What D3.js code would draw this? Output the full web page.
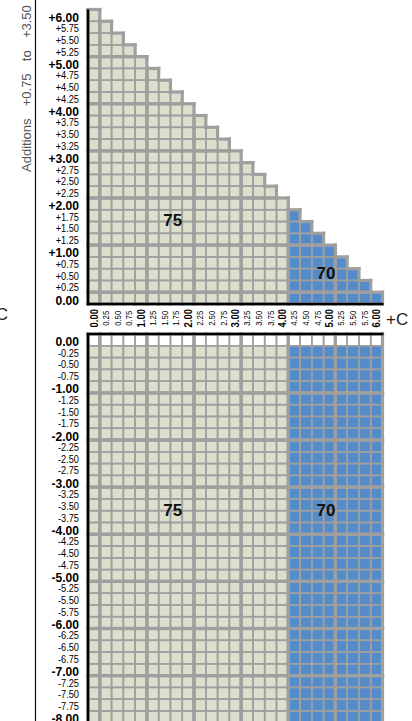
<!DOCTYPE html>
<html><head><meta charset="utf-8">
<script src="https://cdn.jsdelivr.net/npm/d3@7"></script>
<style>body{margin:0;background:#fff;overflow:hidden}svg{display:block}</style>
</head><body>
<script>
// ---- data ----
const cylLabels = ["0.00","0.25","0.50","0.75","1.00","1.25","1.50","1.75","2.00","2.25","2.50","2.75","3.00","3.25","3.50","3.75","4.00","4.25","4.50","4.75","5.00","5.25","5.50","5.75","6.00"];
const addLabels = ["+6.00","+5.75","+5.50","+5.25","+5.00","+4.75","+4.50","+4.25","+4.00","+3.75","+3.50","+3.25","+3.00","+2.75","+2.50","+2.25","+2.00","+1.75","+1.50","+1.25","+1.00","+0.75","+0.50","+0.25","0.00"];
const sphLabels = ["0.00","-0.25","-0.50","-0.75","-1.00","-1.25","-1.50","-1.75","-2.00","-2.25","-2.50","-2.75","-3.00","-3.25","-3.50","-3.75","-4.00","-4.25","-4.50","-4.75","-5.00","-5.25","-5.50","-5.75","-6.00","-6.25","-6.50","-6.75","-7.00","-7.25","-7.50","-7.75","-8.00"];
const blankRows = ["0.00"];           // lower grid rows drawn empty
const maxTotal = 6.00;                // upper grid: cylinder + addition <= 6.00
const zoneLabels = ["75","70"];
const zoneFirstCyl = [0.00, 4.25];    // first cylinder value of each zone
const axisTitle = "Additions  +0.75  to  +3.50";
const cylTitle = "+C";

// ---- styles ----
const W = 412, H = 721;
const zoneFill = ["#dcdfcc","#548bcb"];
const gridCol = "#9f9f9f";
const val = s => parseFloat(s);
const isInt = s => Math.abs(val(s)) % 1 === 0;
const zoneOf = c => { let z = 0; zoneFirstCyl.forEach((v,i)=>{ if (c >= v) z = i; }); return z; };

const svg = d3.select("body").append("svg").attr("width", W).attr("height", H)
  .attr("font-family","'Liberation Sans', Arial, sans-serif");

const x = d3.scaleBand().domain(cylLabels).range([88, 382.5]);
const yT = d3.scaleBand().domain(addLabels).range([9.5, 304]);
const bh = yT.bandwidth();
const yB = d3.scaleBand().domain(sphLabels).range([334, 334 + sphLabels.length * bh]);
const bw = x.bandwidth();

// ---- cells ----
function buildCells(rows, exists, blank) {
  const cells = [];
  rows.forEach((r, i) => cylLabels.forEach((c, j) => {
    if (exists(r, c)) cells.push({r, c, i, j, blank: blank(r), z: zoneOf(val(c))});
  }));
  return cells;
}
const topCells = buildCells(addLabels, (r,c) => val(r) + val(c) <= maxTotal + 1e-9, () => false);
const botCells = buildCells(sphLabels, () => true, r => blankRows.includes(r));

function drawGrid(cells, yScale, vMajor, hMajor) {
  const g = svg.append("g");
  const key = (i,j) => i + "_" + j;
  const has = new Set(cells.map(d => key(d.i, d.j)));
  g.selectAll("rect").data(cells).join("rect")
    .attr("x", d => x(d.c)).attr("y", d => yScale(d.r))
    .attr("width", bw).attr("height", bh)
    .attr("fill", d => d.blank ? "#ffffff" : zoneFill[d.z]);
  const edges = [];
  cells.forEach(d => {
    const x0 = x(d.c), x1 = x0 + bw, y0 = yScale(d.r), y1 = y0 + bh;
    edges.push({x1:x0,y1:y0,x2:x0,y2:y1, thick: vMajor(d.j) || !has.has(key(d.i,d.j-1))});
    edges.push({x1:x1,y1:y0,x2:x1,y2:y1, thick: vMajor(d.j+1) || !has.has(key(d.i,d.j+1))});
    edges.push({x1:x0,y1:y0,x2:x1,y2:y0, thick: hMajor(d.i) || !has.has(key(d.i-1,d.j))});
    edges.push({x1:x0,y1:y1,x2:x1,y2:y1, thick: hMajor(d.i+1) || !has.has(key(d.i+1,d.j))});
  });
  edges.sort((a,b) => a.thick - b.thick);
  g.selectAll("line").data(edges).join("line")
    .attr("x1", d => d.x1).attr("y1", d => d.y1).attr("x2", d => d.x2).attr("y2", d => d.y2)
    .attr("stroke", gridCol).attr("stroke-width", d => d.thick ? 3.2 : 1.6)
    .attr("stroke-linecap", "square");
  return g;
}
const vMajor = b => b === 0 || b % 4 === 1 || b === cylLabels.length;
drawGrid(topCells, yT, vMajor, b => b % 4 === 0);
drawGrid(botCells, yB, vMajor, b => b >= 5 && b % 4 === 1);

// ---- black axis lines ----
const ax = svg.append("g").attr("stroke", "#000").attr("stroke-width", 2.6);
ax.append("line").attr("x1", 88).attr("x2", 88).attr("y1", yT.range()[0]).attr("y2", yT.range()[1] + 1.3);
ax.append("line").attr("x1", 86.7).attr("x2", x.range()[1] + 1).attr("y1", yT.range()[1]).attr("y2", yT.range()[1]);
ax.append("line").attr("x1", 86.7).attr("x2", x.range()[1] + 1).attr("y1", yB.range()[0]).attr("y2", yB.range()[0]);
ax.append("line").attr("x1", 88).attr("x2", 88).attr("y1", yB.range()[0]).attr("y2", H);

// ---- y axes ----
function styleY(g) {
  g.select(".domain").remove();
  g.attr("font-family", null).attr("font-size", null);
  g.selectAll(".tick text").each(function(d) {
    const major = isInt(d);
    d3.select(this).attr("x", null).attr("dy", null)
      .attr("fill", "#000")
      .attr("transform", `translate(-9,${major ? 6.4 : 5}) scale(${major ? 0.93 : 0.88},1)`)
      .style("font-size", major ? "13px" : "10.5px")
      .style("font-weight", major ? "bold" : "normal");
  });
}
svg.append("g").attr("transform", "translate(88,0)")
  .call(d3.axisLeft(yT).tickSize(0).tickPadding(0)).call(styleY);
svg.append("g").attr("transform", "translate(88,0)")
  .call(d3.axisLeft(yB).tickSize(0).tickPadding(0)).call(styleY);

// ---- x axis ----
const gx = svg.append("g").attr("transform", "translate(0,304)")
  .call(d3.axisBottom(x).tickSize(0).tickPadding(0));
gx.select(".domain").remove();
gx.attr("font-family", null).attr("font-size", null);
gx.selectAll(".tick text").each(function(d) {
  const major = isInt(d);
  d3.select(this).attr("y", null).attr("dy", "0.36em")
    .attr("fill", "#000").attr("text-anchor", "middle")
    .attr("transform", `translate(0,14.3) rotate(-90) scale(0.9,1)`)
    .style("font-size", major ? "10.5px" : "8.6px")
    .style("font-weight", major ? "bold" : "normal");
});

// ---- +C labels ----
svg.append("text").attr("x", 386).attr("y", 325).attr("font-size", 17).attr("fill", "#222").text(cylTitle);
svg.append("text").attr("x", 8).attr("y", 320).attr("text-anchor", "end").attr("font-size", 17).attr("fill", "#222").text(cylTitle);

// ---- left rule and rotated title ----
svg.append("line").attr("x1", 35.5).attr("x2", 35.5).attr("y1", 0).attr("y2", H).attr("stroke", "#111").attr("stroke-width", 1.2);
svg.append("text").attr("transform", "translate(31,172) rotate(-90)")
  .attr("font-size", 13).attr("fill", "#555").attr("word-spacing", 2.5)
  .style("white-space", "pre").text(axisTitle);

// ---- zone labels ----
const zl = [
  {t: zoneLabels[0], cx: x("1.75") + bw * 0.2, cy: yT("+1.50") - 1.5},
  {t: zoneLabels[1], cx: x("5.00") + bw * 0.2, cy: yT("+0.50") + bh * 0.4},
  {t: zoneLabels[0], cx: x("1.75") + bw * 0.2, cy: yB("-3.75") - 0.5},
  {t: zoneLabels[1], cx: x("5.00") + bw * 0.2, cy: yB("-3.75") - 0.5}
];
svg.append("g").selectAll("text").data(zl).join("text")
  .attr("x", d => d.cx).attr("y", d => d.cy).attr("dy", "0.36em")
  .attr("text-anchor", "middle").attr("font-size", 17).attr("font-weight", "bold")
  .attr("fill", "#111").text(d => d.t);
</script>
</body></html>
